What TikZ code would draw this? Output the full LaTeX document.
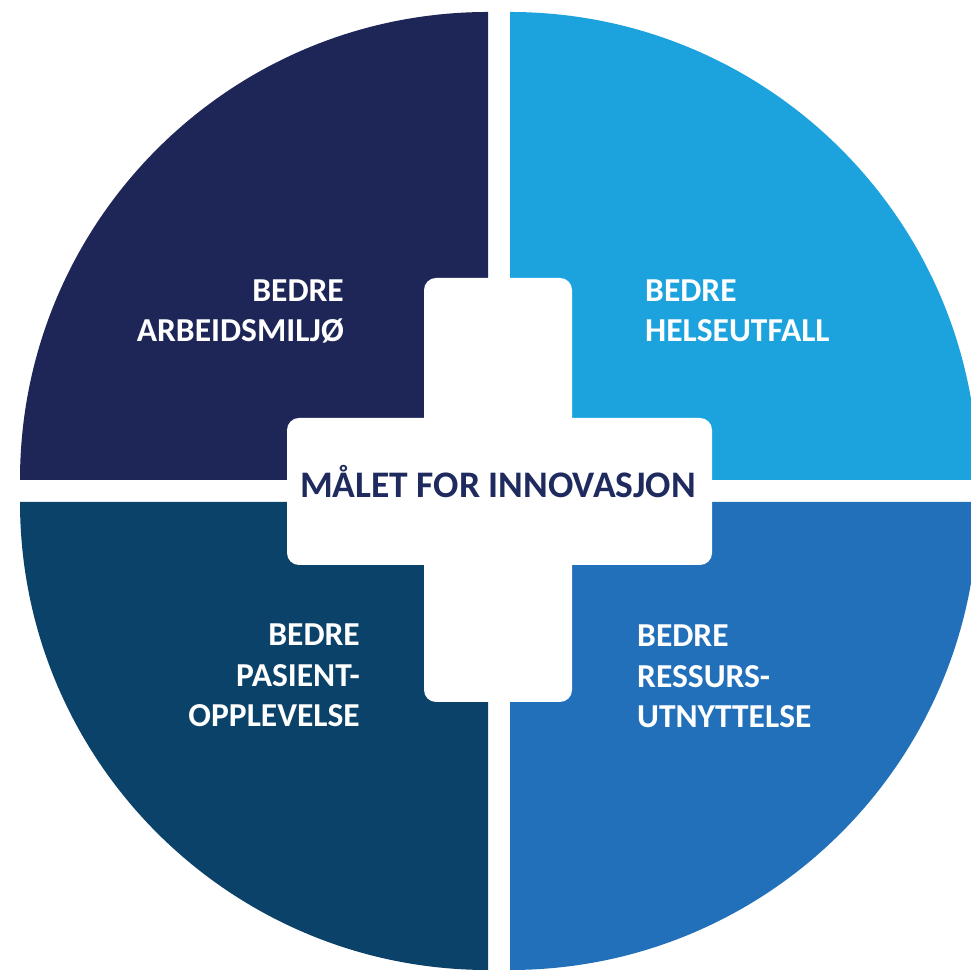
\documentclass[tikz,border=0pt]{standalone}
\usepackage{fontspec}
\setmainfont{Carlito}
\definecolor{qtl}{HTML}{1E2658}
\definecolor{qtr}{HTML}{1CA3DD}
\definecolor{qbl}{HTML}{0B4269}
\definecolor{qbr}{HTML}{2270B9}
\definecolor{titlecol}{HTML}{1F2A5E}
\tikzset{
  quad/.style={draw=none},
  crossbar/.style={fill=white, draw=none, rounded corners=12pt},
  label/.style={text=white, inner sep=0pt, font=\bfseries\fontsize{33.5}{40.5}\selectfont},
  titlelabel/.style={text=titlecol, inner sep=0pt, font=\bfseries\fontsize{37.5}{42}\selectfont}
}
\begin{document}
\begin{tikzpicture}[x=1pt,y=1pt]
\useasboundingbox (0,0) rectangle (970,971);
\fill[white] (0,0) rectangle (970,971);
% quadrants
\fill[qtl] (488,491) -- ++(-468,0) arc[start angle=180,end angle=90,radius=468pt] -- cycle;
\fill[qtr] (510,491) -- ++(0,468) arc[start angle=90,end angle=0,radius=468pt] -- cycle;
\fill[qbl] (488,469) -- ++(-468,0) arc[start angle=180,end angle=270,radius=468pt] -- cycle;
\fill[qbr] (510,469) -- ++(468,0) arc[start angle=0,end angle=-90,radius=468pt] -- cycle;
% cross
\fill[crossbar] (424,269) rectangle (572,693);
\fill[crossbar] (287,406) rectangle (712,553);
% labels
\node[titlelabel, anchor=base] (title) at (498,473) {MÅLET FOR INNOVASJON};
\node[label, align=right, anchor=base east] (tl) at (344,629) {BEDRE\\ARBEIDSMILJØ};
\node[label, align=left, anchor=base west] (tr) at (645,629) {BEDRE\\HELSEUTFALL};
\node[label, align=right, anchor=base east] (bl) at (360,244) {BEDRE\\PASIENT-\\OPPLEVELSE};
\node[label, align=left, anchor=base west] (br) at (637,243) {BEDRE\\RESSURS-\\UTNYTTELSE};
\end{tikzpicture}
\end{document}
